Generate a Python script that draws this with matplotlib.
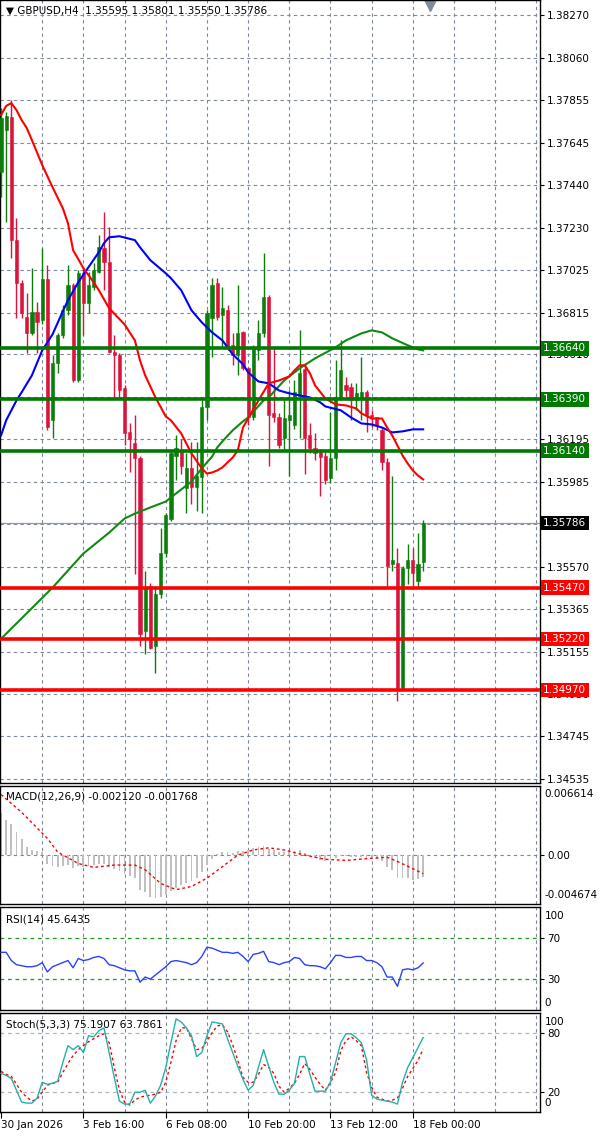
import matplotlib
matplotlib.use("Agg")
import matplotlib.pyplot as plt

plt.rcParams['font.family'] = ['DejaVu Sans']

# GBPUSD H4 candles, left to right
opens = [1.37502, 1.37707, 1.37771, 1.37169, 1.36958, 1.36792, 1.36713, 1.36816, 1.36780, 1.36978,
         1.36288, 1.36567, 1.36704, 1.36826, 1.36948, 1.36483, 1.37007, 1.36860, 1.36939, 1.37012,
         1.37130, 1.37061, 1.36620, 1.36606, 1.36444, 1.36229, 1.36175, 1.36106, 1.35260, 1.35480,
         1.35186, 1.35441, 1.35637, 1.35808, 1.36116, 1.36141, 1.35955, 1.36053, 1.35960, 1.36009,
         1.36351, 1.36787, 1.36958, 1.36802, 1.36826, 1.36655, 1.36606, 1.36718, 1.36542, 1.36302,
         1.36630, 1.36713, 1.36890, 1.36322, 1.36302, 1.36204, 1.36288, 1.36263, 1.36405, 1.36540,
         1.36214, 1.36155, 1.36131, 1.36116, 1.36004, 1.36102, 1.36400, 1.36459, 1.36449, 1.36385,
         1.36395, 1.36425, 1.36312, 1.36302, 1.36239, 1.36082, 1.35588, 1.35592, 1.34981, 1.35568,
         1.35607, 1.35504, 1.35595]
highs = [1.37815, 1.37795, 1.37854, 1.37276, 1.36973, 1.36909, 1.37032, 1.36865, 1.37130, 1.37046,
         1.36606, 1.36713, 1.36850, 1.37046, 1.36958, 1.37022, 1.37037, 1.37012, 1.37056, 1.37193,
         1.37306, 1.37232, 1.36704, 1.36616, 1.36459, 1.36273, 1.36312, 1.36116, 1.35553, 1.35495,
         1.35480, 1.35764, 1.35837, 1.36136, 1.36214, 1.36199, 1.36126, 1.36180, 1.36180, 1.36385,
         1.36826, 1.36983, 1.36983, 1.36939, 1.36850, 1.36713, 1.36948, 1.36723, 1.36547, 1.36655,
         1.36777, 1.37105, 1.36899, 1.36645, 1.36322, 1.36385, 1.36434, 1.36483, 1.36728, 1.36567,
         1.36273, 1.36224, 1.36150, 1.36131, 1.36327, 1.36581, 1.36679, 1.36498, 1.36469, 1.36469,
         1.36596, 1.36434, 1.36337, 1.36302, 1.36253, 1.36102, 1.36018, 1.35666, 1.35578, 1.35685,
         1.35666, 1.35739, 1.35801]
lows = [1.37379, 1.37257, 1.37081, 1.36787, 1.36787, 1.36616, 1.36704, 1.36616, 1.36760, 1.36239,
        1.36204, 1.36518, 1.36689, 1.36802, 1.36474, 1.36474, 1.36704, 1.36811, 1.36924, 1.37007,
        1.36924, 1.36616, 1.36400, 1.36395, 1.36165, 1.36033, 1.35539, 1.35186, 1.35147, 1.35172,
        1.35054, 1.35421, 1.35622, 1.35798, 1.35994, 1.36028, 1.35837, 1.35881, 1.35847, 1.35837,
        1.36288, 1.36596, 1.36777, 1.36645, 1.36630, 1.36557, 1.36508, 1.36532, 1.36263, 1.36288,
        1.36581, 1.36694, 1.36067, 1.36278, 1.36155, 1.36141, 1.36018, 1.36248, 1.36204, 1.36028,
        1.36126, 1.36092, 1.35920, 1.35979, 1.35984, 1.36043, 1.36385, 1.36385, 1.36288, 1.36337,
        1.36288, 1.36229, 1.36253, 1.36239, 1.36043, 1.35480, 1.35553, 1.34917, 1.34976, 1.35490,
        1.35480, 1.35470, 1.35550]
closes = [1.37766, 1.37776, 1.37169, 1.36958, 1.36811, 1.36713, 1.36816, 1.36767, 1.36978, 1.36253,
          1.36567, 1.36704, 1.36826, 1.36948, 1.36483, 1.37007, 1.36860, 1.36948, 1.37022, 1.37134,
          1.37061, 1.36620, 1.36606, 1.36434, 1.36224, 1.36199, 1.36102, 1.35245, 1.35470, 1.35176,
          1.35441, 1.35641, 1.35823, 1.36126, 1.36155, 1.36067, 1.36053, 1.35960, 1.36018, 1.36351,
          1.36811, 1.36948, 1.36792, 1.36836, 1.36645, 1.36606, 1.36713, 1.36542, 1.36302, 1.36645,
          1.36713, 1.36890, 1.36312, 1.36302, 1.36165, 1.36297, 1.36312, 1.36425, 1.36518, 1.36204,
          1.36155, 1.36126, 1.36111, 1.35994, 1.36102, 1.36400, 1.36532, 1.36434, 1.36385, 1.36420,
          1.36425, 1.36312, 1.36302, 1.36263, 1.36082, 1.35578, 1.35607, 1.34981, 1.35568, 1.35607,
          1.35544, 1.35588, 1.35786]

# moving averages (bar index, price)
red_x = [0, 1, 2, 3, 4, 5, 6, 8, 10, 12, 13, 14, 16, 18, 19, 21, 24, 26, 27, 28, 30, 32, 33, 35, 37,
         39, 40, 41, 42, 43, 45, 46, 47, 48, 50, 52, 54, 56, 57, 58, 59, 60, 61, 63, 65, 67, 69, 70,
         72, 74, 75, 76, 78, 79, 80, 81, 82]
red_v = [1.37781, 1.37825, 1.37839, 1.37805, 1.37756, 1.37717, 1.37658, 1.37536, 1.37428, 1.37325,
         1.37252, 1.37120, 1.37032, 1.36963, 1.36924, 1.36836, 1.36757, 1.36679, 1.36581, 1.36508,
         1.36400, 1.36307, 1.36288, 1.36224, 1.36126, 1.36053, 1.36028, 1.36033, 1.36043, 1.36058,
         1.36106, 1.36141, 1.36253, 1.36297, 1.36385, 1.36469, 1.36483, 1.36503, 1.36532, 1.36557,
         1.36557, 1.36518, 1.36459, 1.36395, 1.36366, 1.36361, 1.36346, 1.36322, 1.36297, 1.36297,
         1.36253, 1.36214, 1.36116, 1.36077, 1.36043, 1.36018, 1.35999]
blue_x = [0, 1, 3, 4, 6, 8, 10, 12, 13, 15, 17, 19, 20, 21, 23, 26, 27, 29, 32, 33, 35, 37, 39, 41,
          43, 45, 47, 48, 50, 52, 54, 56, 58, 60, 62, 63, 66, 68, 70, 72, 74, 76, 78, 80, 82]
blue_v = [1.36214, 1.36288, 1.36385, 1.36425, 1.36508, 1.36630, 1.36708, 1.36821, 1.36875, 1.36963,
          1.37037, 1.37110, 1.37154, 1.37183, 1.37188, 1.37169, 1.37134, 1.37071, 1.37007, 1.36983,
          1.36924, 1.36826, 1.36767, 1.36718, 1.36679, 1.36611, 1.36562, 1.36523, 1.36478, 1.36469,
          1.36434, 1.36420, 1.36410, 1.36400, 1.36376, 1.36356, 1.36337, 1.36302, 1.36273, 1.36268,
          1.36253, 1.36229, 1.36234, 1.36244, 1.36244]
green_x = [0, 10, 16, 21, 24, 26, 29, 32, 33, 35, 37, 39, 41, 42, 43, 45, 47, 48, 51, 52, 55, 58,
           61, 65, 67, 70, 72, 74, 76, 79, 81, 82]
green_v = [1.35220, 1.35470, 1.35637, 1.35739, 1.35808, 1.35832, 1.35862, 1.35891, 1.35911, 1.35950,
           1.35989, 1.36053, 1.36111, 1.36155, 1.36185, 1.36239, 1.36283, 1.36302, 1.36385, 1.36400,
           1.36483, 1.36542, 1.36591, 1.36645, 1.36679, 1.36713, 1.36728, 1.36718, 1.36689, 1.36655,
           1.36635, 1.36630]

resistance = [1.36640, 1.36390, 1.36140]
support = [1.35470, 1.35220, 1.34970]
last_price = 1.35786

# scale levels; the ones fully hidden behind a price box get no text
price_ticks = [1.38270, 1.38060, 1.37855, 1.37645, 1.37440, 1.37230, 1.37025, 1.36815, 1.36610,
               1.36400, 1.36195, 1.35985, 1.35780, 1.35570, 1.35365, 1.35155, 1.34950, 1.34745,
               1.34535]
price_tick_labels = ['1.38270', '1.38060', '1.37855', '1.37645', '1.37440', '1.37230', '1.37025',
                     '1.36815', '1.36610', '', '1.36195', '1.35985', '', '1.35570',
                     '1.35365', '1.35155', '1.34950', '1.34745', '1.34535']

macd_main = [0.0040, 0.0034, 0.0030, 0.0022, 0.0015, 0.0008, 0.0005, 0.0004, 0.0003, -0.0008,
             -0.0010, -0.0011, -0.0010, -0.0009, -0.0012, -0.0010, -0.0011, -0.0010, -0.0009, -0.0008,
             -0.0008, -0.0011, -0.0013, -0.0015, -0.0018, -0.0020, -0.0022, -0.0033, -0.0035, -0.0040,
             -0.0041, -0.0040, -0.0038, -0.0034, -0.0031, -0.0029, -0.0027, -0.0025, -0.0022, -0.0016,
             -0.0009, -0.0004, 0.0001, 0.0003, 0.0003, 0.0002, 0.0004, 0.0004, 0.0005, 0.0007,
             0.0008, 0.0009, 0.0006, 0.0005, 0.0003, 0.0003, 0.0003, 0.0004, 0.0005, 0.0002,
             -0.0001, -0.0003, -0.0005, -0.0006, -0.0005, -0.0003, -0.0001, -0.0001, -0.0002, -0.0002,
             -0.0002, -0.0003, -0.0003, -0.0004, -0.0006, -0.0011, -0.0014, -0.0022, -0.0022, -0.0022,
             -0.0024, -0.0023, -0.002120]
macd_sig_x = [0, 4, 9, 11, 15, 18, 22, 26, 28, 31, 34, 37, 40, 43, 46, 49, 52, 55, 59, 63, 67, 72,
              75, 77, 80, 82]
macd_sig_v = [0.0058, 0.0041, 0.0016, 0.0003, -0.0008, -0.00117, -0.00095, -0.00095, -0.0014, -0.0027,
              -0.0033, -0.0030, -0.0022, -0.0011, 0.0000, 0.0005, 0.0007, 0.0005, 0.0000, -0.0004,
              -0.0005, -0.0003, -0.0002, -0.0006, -0.0013, -0.001768]

rsi = [56, 56, 48, 44, 43, 42, 42, 43, 46, 37, 42, 44, 46, 48, 41, 50, 48, 49, 51, 52,
       50, 44, 43, 41, 39, 38, 38, 27, 32, 30, 34, 38, 42, 47, 48, 47, 46, 44, 46, 52,
       61, 60, 58, 56, 56, 55, 56, 52, 47, 54, 55, 57, 47, 46, 44, 46, 47, 51, 50, 44,
       43, 43, 42, 40, 46, 53, 53, 51, 51, 52, 52, 48, 48, 46, 42, 32, 32, 23, 39, 40,
       39, 41, 45.64]

stoch_main = [39, 37, 34, 22, 10, 9, 9, 14, 30, 28, 29, 31, 50, 67, 63, 67, 60, 77, 76, 82,
              85, 60, 35, 11, 8, 8, 20, 20, 22, 9, 16, 27, 45, 70, 94, 91, 85, 77, 56, 60,
              77, 91, 90, 89, 74, 60, 46, 33, 22, 27, 45, 63, 46, 30, 18, 18, 22, 29, 56, 56,
              38, 21, 21, 21, 30, 50, 70, 79, 79, 75, 70, 53, 17, 13, 12, 11, 10, 8, 30, 45,
              55, 65, 75.19]
stoch_sig = [41, 38, 36, 28, 20, 15, 11, 13, 20, 27, 29, 30, 40, 49, 57, 63, 67, 71, 74, 77,
             79, 70, 45, 22, 10, 7, 12, 15, 16, 17, 18, 20, 30, 50, 72, 85, 85, 74, 63, 64,
             72, 80, 87, 88, 81, 68, 52, 35, 30, 30, 38, 48, 45, 39, 26, 20, 24, 29, 38, 49,
             43, 35, 28, 22, 30, 40, 62, 72, 76, 72, 67, 40, 25, 15, 13, 11, 12, 14, 24, 36,
             44, 52, 63.79]

date_pos = [0, 16, 32, 48, 64, 80]
date_labels = ['30 Jan 2026', '3 Feb 16:00', '6 Feb 08:00', '10 Feb 20:00', '13 Feb 12:00', '18 Feb 00:00']

W, H = 600, 1136
fig = plt.figure(figsize=(W / 100, H / 100), dpi=100)
fig.patch.set_facecolor('white')


def panel(top, bottom):
    return fig.add_axes([0.0, 1 - bottom / H, 540 / W, (bottom - top) / H])


ax = panel(0, 783)
ax_macd = panel(786, 904)
ax_rsi = panel(907, 1010)
ax_sto = panel(1013, 1112)

grid_color = '#7a8899'
dash = (0, (3, 3))
n = len(closes)
xs = list(range(n))
fs = 7.5
lx = 1.009

for a in (ax, ax_macd, ax_rsi, ax_sto):
    a.set_xlim(-0.2, 104.7)
    a.yaxis.tick_right()
    a.tick_params(axis='y', labelsize=fs, length=3, pad=2)
    a.tick_params(axis='x', length=0, labelbottom=False)
    for v in range(8, 105, 8):
        a.axvline(v, color=grid_color, lw=0.8, ls=dash, zorder=0)
    for s in a.spines.values():
        s.set_color('black')
        s.set_linewidth(1)

# main price panel
ax.set_ylim(1.34515, 1.38343)
ax.set_yticks(price_ticks)
ax.set_yticklabels(price_tick_labels)
for t in price_ticks:
    ax.axhline(t, color=grid_color, lw=0.8, ls=dash, zorder=0)

ax.axhline(last_price, color='#9a9a9a', lw=0.9, zorder=1)

for i in range(n):
    col = '#0b7d0b' if closes[i] >= opens[i] else '#dc143c'
    ax.vlines(i, lows[i], highs[i], color=col, lw=1, zorder=3)
    bottom = min(opens[i], closes[i])
    height = max(abs(closes[i] - opens[i]), 0.00003)
    ax.bar(i, height, bottom=bottom, width=0.62, color=col, edgecolor=col, lw=0.4, zorder=4)

ax.plot(green_x, green_v, color='#108a10', lw=1.5, zorder=5)
ax.plot(blue_x, blue_v, color='#0000ff', lw=1.5, zorder=5)
ax.plot(red_x, red_v, color='#ff0000', lw=1.5, zorder=5)

for v in resistance:
    ax.axhline(v, color='#007a00', lw=2.6, zorder=6)
for v in support:
    ax.axhline(v, color='#ff0000', lw=2.6, zorder=6)

ytr = ax.get_yaxis_transform()
boxes = [(v, '#007a00') for v in resistance] + [(v, '#ff0000') for v in support] + [(last_price, 'black')]
for v, c in boxes:
    ax.text(1.006, v, '%.5f' % v, transform=ytr, color='white', fontsize=fs, va='center', ha='left',
            bbox=dict(boxstyle='square,pad=0.22', fc=c, ec='none'), zorder=10, clip_on=False)

ax.text(0.012, 0.993, '\u25bc GBPUSD,H4  1.35595 1.35801 1.35550 1.35786', transform=ax.transAxes,
        fontsize=fs, va='top', ha='left')
ax.plot([0.796], [0.994], marker='v', ms=8, color='#7f8c9a', transform=ax.transAxes, clip_on=False)

# MACD
ax_macd.set_ylim(-0.004674, 0.006614)
ax_macd.axhline(0, color=grid_color, lw=0.8, ls=dash, zorder=0)
ax_macd.bar(xs, macd_main, width=0.35, color='#c0c0c0', zorder=2)
ax_macd.plot(macd_sig_x, macd_sig_v, color='#ff0000', lw=1, ls=(0, (2, 2)), zorder=3)
ax_macd.set_yticks([0])
ax_macd.set_yticklabels(['0.00'])
ax_macd.text(lx, 0.932, '0.006614', transform=ax_macd.transAxes, fontsize=fs, va='center', ha='left')
ax_macd.text(lx, 0.08, '-0.004674', transform=ax_macd.transAxes, fontsize=fs, va='center', ha='left')
ax_macd.text(0.012, 0.95, 'MACD(12,26,9) -0.002120 -0.001768', transform=ax_macd.transAxes,
             fontsize=fs, va='top', ha='left')

# RSI
ax_rsi.set_ylim(0, 100)
for lv in (30, 70):
    ax_rsi.axhline(lv, color='#1f9a1f', lw=0.9, ls=dash, zorder=1)
ax_rsi.plot(xs, rsi, color='#2a40ff', lw=1, zorder=3)
ax_rsi.set_yticks([70, 30])
ax_rsi.set_yticklabels(['70', '30'])
ax_rsi.text(lx, 0.915, '100', transform=ax_rsi.transAxes, fontsize=fs, va='center', ha='left')
ax_rsi.text(lx, 0.07, '0', transform=ax_rsi.transAxes, fontsize=fs, va='center', ha='left')
ax_rsi.text(0.012, 0.93, 'RSI(14) 45.6435', transform=ax_rsi.transAxes, fontsize=fs, va='top', ha='left')

# Stochastic
ax_sto.set_ylim(0, 100)
for lv in (20, 80):
    ax_sto.axhline(lv, color='#b4b4b4', lw=0.9, ls=dash, zorder=1)
ax_sto.plot(xs, stoch_sig, color='#ff0000', lw=1, ls=(0, (2, 2)), zorder=3)
ax_sto.plot(xs, stoch_main, color='#20b2aa', lw=1, zorder=4)
ax_sto.set_yticks([80, 20])
ax_sto.set_yticklabels(['80', '20'])
ax_sto.text(lx, 0.905, '100', transform=ax_sto.transAxes, fontsize=fs, va='center', ha='left')
ax_sto.text(lx, 0.095, '0', transform=ax_sto.transAxes, fontsize=fs, va='center', ha='left')
ax_sto.text(0.012, 0.93, 'Stoch(5,3,3) 75.1907 63.7861', transform=ax_sto.transAxes, fontsize=fs,
            va='top', ha='left')

ax_sto.set_xticks(date_pos)
ax_sto.set_xticklabels(date_labels)
ax_sto.tick_params(axis='x', length=4, labelbottom=True, labelsize=fs, pad=2)
for lbl in ax_sto.get_xticklabels():
    lbl.set_ha('left')

fig.savefig('out.png', dpi=100)
